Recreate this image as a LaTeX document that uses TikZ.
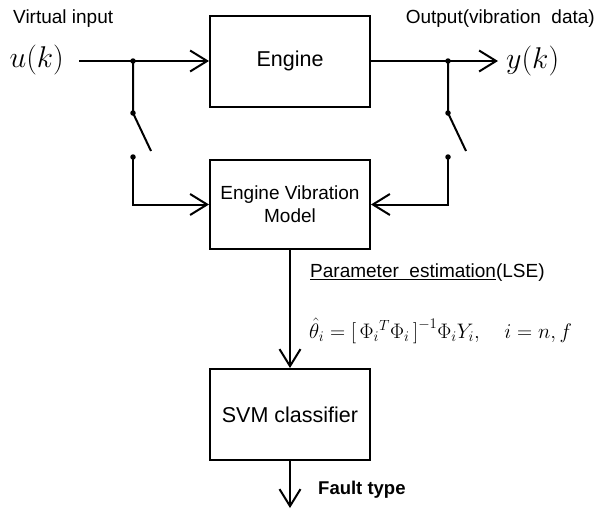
\documentclass[tikz,border=0pt]{standalone}
\usepackage{fix-cm}
\usepackage{fontspec}
\setmainfont{Liberation Sans}
\usetikzlibrary{arrows.meta}
\begin{document}
\begin{tikzpicture}[x=1pt,y=-1pt,
  blk/.style={draw,line width=2pt,minimum width=160pt,inner sep=0pt,align=center,font=\fontsize{19}{23}\selectfont},
  wire/.style={line width=2pt},
  arr/.style={wire,-{Straight Barb[length=17pt,width=21pt,line width=2pt]}},
  dotc/.style={circle,fill,inner sep=0pt,minimum size=5.5pt},
  lbl/.style={inner sep=0pt,font=\fontsize{19}{23}\selectfont}]
\useasboundingbox (0,0) rectangle (611,512);
\node[blk,minimum height=91pt,font=\fontsize{21.5}{25}\selectfont] (engine) at (290,61) {Engine};
\node[blk,minimum height=89pt] (model) at (290,204.5) {Engine Vibration\\Model};
\node[blk,minimum height=91pt,font=\fontsize{21.5}{25}\selectfont] (svm) at (290,414.5) {SVM classifier};
% labels
\node[lbl,anchor=west] (vin) at (13,19) {Virtual input};
\node[lbl,anchor=east] (vout) at (595,19) {Output(vibration\ \ data)};
\node[inner sep=0pt,anchor=east] (u) at (64,60) {\fontsize{30}{34}\selectfont$u(k)$};
\node[inner sep=0pt,anchor=west] (y) at (506,61) {\fontsize{30}{34}\selectfont$y(k)$};
\node[lbl,anchor=west] (pe) at (310,273) {\underline{Parameter\ \ estimation}(LSE)};
\node[inner sep=0pt,anchor=west] (eq) at (309,331) {\fontsize{21}{24}\selectfont$\hat{\theta}_i=\Bigl[\,\Phi_i{}^{T}\Phi_i\,\Bigr]^{-1}\Phi_iY_i,\quad i=n,f$};
\node[lbl,anchor=west,font=\fontsize{18.5}{22}\selectfont\bfseries] (ft) at (318,490) {Fault type};
% coordinates
\coordinate (us) at (79,61);
\node[dotc] (uj) at (133,61) {};
\node[dotc] (ua) at (133,113) {};
\coordinate (ub) at (151,151);
\node[dotc] (uc) at (133,157) {};
\coordinate (ud) at (133,204.5);
\node[dotc] (oj) at (448,61) {};
\node[dotc] (oa) at (448,113) {};
\coordinate (ob) at (466,151);
\node[dotc] (oc) at (448,157) {};
\coordinate (od) at (448,204.5);
\coordinate (oe) at (498,61);
\coordinate (fe) at (290,508);
% wires
\draw[arr] (us) -- (engine.west);
\draw[wire] (uj.center) -- (ua.center) -- (ub);
\draw[arr] (uc.center) -- (ud) -- (model.west);
\draw[arr] (engine.east) -- (oe);
\draw[wire] (oj.center) -- (oa.center) -- (ob);
\draw[arr] (oc.center) -- (od) -- (model.east);
\draw[arr] (model.south) -- (svm.north);
\draw[arr] (svm.south) -- (fe);
\end{tikzpicture}
\end{document}
